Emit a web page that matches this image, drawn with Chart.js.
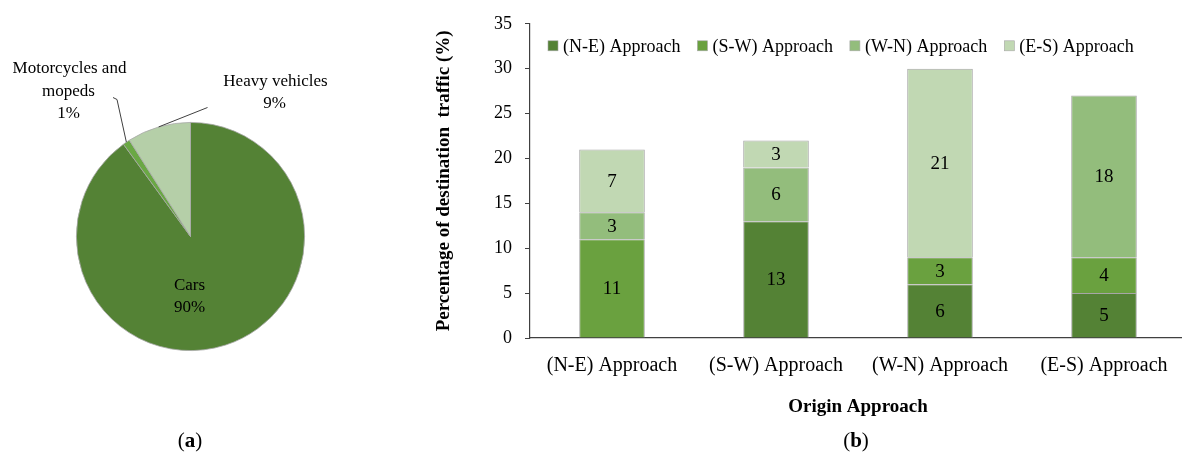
<!DOCTYPE html>
<html>
<head>
<meta charset="utf-8">
<script src="https://cdn.jsdelivr.net/npm/chart.js@4.4.1/dist/chart.umd.min.js"></script>
<style>
  html, body { margin: 0; padding: 0; background: #fff; width: 1182px; height: 462px; overflow: hidden; position: relative; }
  #pieWrap { position: absolute; left: 0; top: 0; width: 420px; height: 462px; }
  #barWrap { position: absolute; left: 420px; top: 0; width: 766px; height: 462px; }
  .cap { position: absolute; top: 427px; font-family: "Liberation Serif", serif; font-size: 21px; color: #000; transform: translateX(-50%); line-height: 26px; }
</style>
</head>
<body>
<div id="pieWrap"><canvas id="pie" width="420" height="462"></canvas></div>
<div id="barWrap"><canvas id="bar" width="766" height="462"></canvas></div>
<div class="cap" style="left:190px">(<b>a</b>)</div>
<div class="cap" style="left:856px">(<b>b</b>)</div>
<script>
// ---------- data ----------
const vehicleTypes = ['Cars', 'Motorcycles and mopeds', 'Heavy vehicles'];
const vehicleShares = [90, 1, 9];

const originApproaches = ['(N-E) Approach', '(S-W) Approach', '(W-N) Approach', '(E-S) Approach'];
const destNE = [0, 13, 6, 5];
const destSW = [11, 0, 3, 4];
const destWN = [3, 6, 0, 18];
const destES = [7, 3, 21, 0];
const seriesNames = ['(N-E) Approach', '(S-W) Approach', '(W-N) Approach', '(E-S) Approach'];
const yTicks = [0, 5, 10, 15, 20, 25, 30, 35];

const SERIF = '"Liberation Serif", "Times New Roman", serif';
Chart.defaults.font.family = SERIF;
Chart.defaults.color = '#000';

// ---------- pie ----------
const pieColors = ['#548235', '#6aa844', '#b5cfa8'];
const pieLabelPlugin = {
  id: 'pieLabels',
  afterDatasetsDraw(chart) {
    const ctx = chart.ctx;
    const arcs = chart.getDatasetMeta(0).data;
    const vals = chart.data.datasets[0].data;
    ctx.save();
    ctx.font = '17px ' + SERIF;
    ctx.fillStyle = '#000';
    ctx.textAlign = 'center';
    ctx.textBaseline = 'middle';
    const a0 = arcs[0];
    ctx.fillText('Cars', a0.x - 1, a0.y + 49);
    ctx.fillText(vals[0] + '%', a0.x - 1, a0.y + 71);
    ctx.strokeStyle = '#404040';
    ctx.lineWidth = 1;
    const edge = (arc) => {
      const m = (arc.startAngle + arc.endAngle) / 2;
      return [arc.x + arc.outerRadius * Math.cos(m), arc.y + arc.outerRadius * Math.sin(m)];
    };
    const p1 = edge(arcs[1]);
    ctx.beginPath();
    ctx.moveTo(p1[0], p1[1]);
    ctx.lineTo(a0.x - 73.5, a0.y - 137);
    ctx.lineTo(a0.x - 77.5, a0.y - 139);
    ctx.stroke();
    const p2 = edge(arcs[2]);
    ctx.beginPath();
    ctx.moveTo(p2[0], p2[1]);
    ctx.lineTo(a0.x + 17, a0.y - 129);
    ctx.stroke();
    ctx.fillText('Motorcycles and', a0.x - 121, a0.y - 168);
    ctx.fillText('mopeds', a0.x - 122, a0.y - 145);
    ctx.fillText(vals[1] + '%', a0.x - 122, a0.y - 123);
    ctx.fillText('Heavy vehicles', a0.x + 85, a0.y - 155);
    ctx.fillText(vals[2] + '%', a0.x + 84, a0.y - 133);
    ctx.restore();
  }
};

new Chart(document.getElementById('pie'), {
  type: 'pie',
  data: {
    labels: vehicleTypes,
    datasets: [{
      data: vehicleShares,
      backgroundColor: pieColors,
      borderColor: '#a8a8a8',
      borderWidth: 0.8
    }]
  },
  options: {
    responsive: false,
    animation: false,
    layout: { padding: { left: 76, right: 115, top: 122, bottom: 111 } },
    plugins: { legend: { display: false }, tooltip: { enabled: false } }
  },
  plugins: [pieLabelPlugin]
});

// ---------- stacked bar ----------
const barColors = ['#548235', '#6aa13f', '#93bd7c', '#c1d8b3'];
const seriesData = [destNE, destSW, destWN, destES];

const barValuePlugin = {
  id: 'barValues',
  afterDatasetsDraw(chart) {
    const ctx = chart.ctx;
    ctx.save();
    ctx.font = '19px ' + SERIF;
    ctx.fillStyle = '#000';
    ctx.textAlign = 'center';
    ctx.textBaseline = 'middle';
    chart.data.datasets.forEach((ds, di) => {
      const meta = chart.getDatasetMeta(di);
      meta.data.forEach((el, i) => {
        const v = ds.data[i];
        if (!v) return;
        ctx.fillText(String(v), el.x, (el.y + el.base) / 2 + 1);
      });
    });
    ctx.restore();
  }
};

// legend drawn inside the plot area, in one row, from the datasets
const inlineLegendPlugin = {
  id: 'inlineLegend',
  afterDraw(chart) {
    const ctx = chart.ctx;
    const area = chart.chartArea;
    ctx.save();
    ctx.font = '18px ' + SERIF;
    ctx.textAlign = 'left';
    ctx.textBaseline = 'middle';
    let x = area.left + 18;
    const yc = area.top + 22;
    chart.data.datasets.forEach((ds) => {
      ctx.fillStyle = ds.backgroundColor;
      ctx.fillRect(x, yc - 5, 10, 10);
      ctx.strokeStyle = '#a6a6a6';
      ctx.lineWidth = 0.6;
      ctx.strokeRect(x, yc - 5, 10, 10);
      ctx.fillStyle = '#000';
      ctx.fillText(ds.label, x + 15, yc + 1);
      x += 15 + ctx.measureText(ds.label).width + 17;
    });
    ctx.restore();
  }
};

new Chart(document.getElementById('bar'), {
  type: 'bar',
  data: {
    labels: originApproaches,
    datasets: seriesNames.map((name, i) => ({
      label: name,
      data: seriesData[i],
      backgroundColor: barColors[i],
      borderColor: '#a6a6a6',
      borderWidth: 1,
      barPercentage: 0.4,
      categoryPercentage: 1
    }))
  },
  options: {
    responsive: false,
    animation: false,
    layout: { padding: { top: 21, left: 0, right: 0, bottom: 0 } },
    scales: {
      x: {
        stacked: true,
        grid: { display: false, drawTicks: false },
        border: { display: true, color: '#404040', width: 1.2 },
        ticks: { font: { size: 20, family: SERIF }, color: '#000', padding: 16, maxRotation: 0, autoSkip: false },
        title: { display: true, text: 'Origin Approach', font: { size: 19, weight: 'bold', family: SERIF }, color: '#000', padding: { top: 0, bottom: 44 } },
        afterFit(scale) { scale.height = 124; }
      },
      y: {
        stacked: true,
        min: 0,
        max: 35,
        afterBuildTicks(scale) { scale.ticks = yTicks.map(v => ({ value: v })); },
        grid: { display: true, drawOnChartArea: false, drawTicks: true, tickLength: 5, color: '#404040' },
        border: { display: true, color: '#404040', width: 1.2 },
        ticks: { font: { size: 18, family: SERIF }, color: '#000', padding: 13 },
        title: { display: true, text: 'Percentage of destination  traffic (%)', font: { size: 19, weight: 'bold', family: SERIF }, color: '#000', padding: { top: 13, bottom: 0 } },
        afterFit(scale) { scale.width = 110; }
      }
    },
    plugins: {
      tooltip: { enabled: false },
      legend: { display: false }
    }
  },
  plugins: [barValuePlugin, inlineLegendPlugin]
});
</script>
</body>
</html>
